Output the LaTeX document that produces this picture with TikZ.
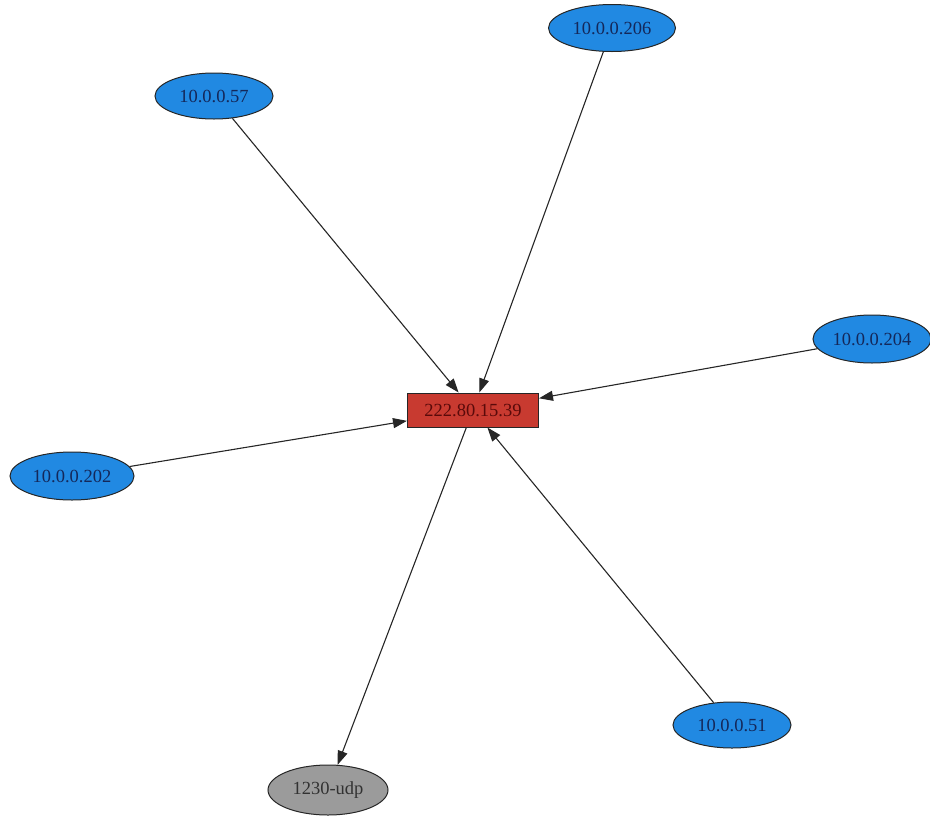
\documentclass[tikz,border=0pt]{standalone}
\usepackage{fontspec}
\setmainfont{Liberation Serif}
\usetikzlibrary{arrows.meta,shapes.geometric}
\definecolor{hostblue}{RGB}{33,137,226}
\definecolor{hosttext}{RGB}{20,40,90}
\definecolor{srvred}{RGB}{200,58,48}
\definecolor{srvtext}{RGB}{90,10,10}
\definecolor{udpgrey}{RGB}{155,155,155}
\definecolor{udptext}{RGB}{50,50,50}
\tikzset{
  host/.style={ellipse, draw=black!85, line width=1pt, fill=hostblue, text=hosttext,
    minimum width=118pt, minimum height=46pt, inner sep=0pt, font=\fontsize{18.5}{18.5}\selectfont},
  server/.style={rectangle, draw=black!85, line width=1pt, fill=srvred, text=srvtext,
    minimum width=131pt, minimum height=34pt, inner sep=0pt, font=\fontsize{18.5}{18.5}\selectfont},
  port/.style={ellipse, draw=black!85, line width=1pt, fill=udpgrey, text=udptext,
    minimum width=120pt, minimum height=50pt, inner sep=0pt, font=\fontsize{18.5}{18.5}\selectfont},
  link/.style={draw=black!85, line width=1.1pt, -{Triangle[length=14pt,width=10pt]}},
}
\begin{document}
\begin{tikzpicture}[x=1pt,y=-1pt]
\useasboundingbox (0,0) rectangle (930,817);
\node[server] (c) at (473,410) {222.80.15.39};
\node[host] (h57) at (214,96) {10.0.0.57};
\node[host, minimum width=127pt, minimum height=47pt] (h206) at (612,28) {10.0.0.206};
\node[host, minimum height=48pt] (h204) at (872,339) {10.0.0.204};
\node[host, minimum width=124pt, minimum height=48pt] (h202) at (72,476) {10.0.0.202};
\node[host] (h51) at (732,725) {10.0.0.51};
\node[port] (u) at (328,790) {1230-udp};
\draw[link] (h57) -- (c);
\draw[link] (h206) -- (c);
\draw[link] (h204) -- (c);
\draw[link] (h202) -- (c);
\draw[link] (h51) -- (c);
\draw[link] (c) -- (u);
\end{tikzpicture}
\end{document}
